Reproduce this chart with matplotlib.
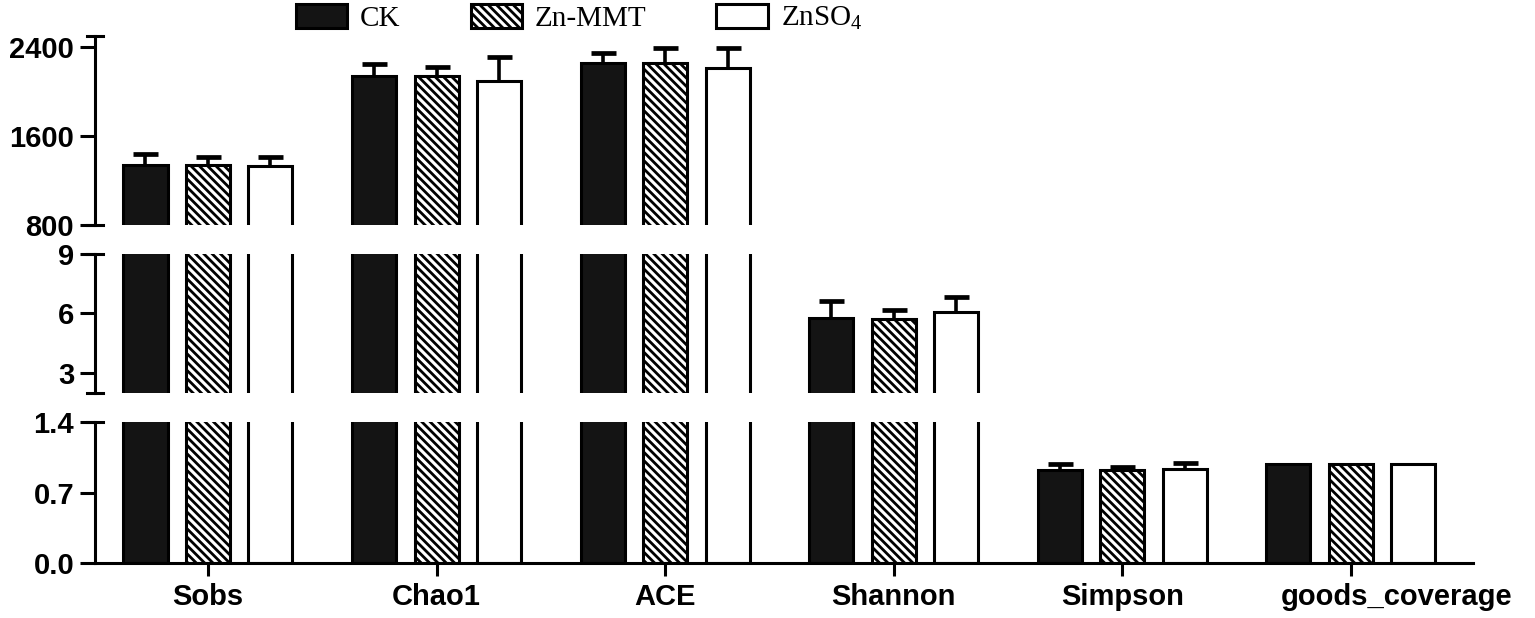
import numpy as np
import matplotlib
matplotlib.use("Agg")
import matplotlib.pyplot as plt
from matplotlib.patches import Patch
from matplotlib.lines import Line2D
from matplotlib.transforms import ScaledTranslation

plt.rcParams['hatch.linewidth'] = 2.0
plt.rcParams['mathtext.fontset'] = 'custom'
plt.rcParams['mathtext.rm'] = 'Liberation Serif'

# ---------------- data ----------------
categories = ['Sobs', 'Chao1', 'ACE', 'Shannon', 'Simpson', 'goods_coverage']
series_names = ['CK', 'Zn-MMT', r'$\mathregular{ZnSO_4}$']
ck = [1338, 2137, 2250, 5.78, 0.923, 0.982]
ck_err = [99, 104, 96, 0.84, 0.057, 0.0]
znmmt = [1338, 2137, 2256, 5.71, 0.923, 0.982]
znmmt_err = [69, 77, 130, 0.45, 0.032, 0.0]
znso4 = [1329, 2095, 2206, 6.08, 0.930, 0.982]
znso4_err = [84, 209, 180, 0.72, 0.060, 0.0]

top_ticks = [800, 1600, 2400]
mid_ticks = [3, 6, 9]
bot_ticks = [0.0, 0.7, 1.4]
top_lim = (800, 2500)
mid_lim = (2, 9)
bot_lim = (0, 1.4)

# ---------------- style ----------------
W, H = 1535, 618
fig = plt.figure(figsize=(W / 100, H / 100), dpi=100)
LW = 2.2
tick_font = dict(family='Liberation Sans', weight='bold', size=21)

left = 95 / W
width = (1473 - 95) / W
seg_px = [(35.5, 225.0), (253.7, 393.0), (421.7, 563.3)]
axes = []
for top_px, bot_px in seg_px:
    ax = fig.add_axes([left, 1 - bot_px / H, width, (bot_px - top_px) / H])
    axes.append(ax)
ax_top, ax_mid, ax_bot = axes

x = np.arange(len(categories))
bar_w = 0.1925
offs = [-0.2734, 0.0, 0.2734]
faces = ['#141414', 'white', 'white']
hatches = [None, '\\\\\\\\', None]
values = [ck, znmmt, znso4]
errors = [ck_err, znmmt_err, znso4_err]

for ax in axes:
    for vals, errs, off, fc, ht in zip(values, errors, offs, faces, hatches):
        ax.bar(x + off, vals, width=bar_w, color=fc, edgecolor='black',
               linewidth=LW, hatch=ht, zorder=2)
        v = np.asarray(vals, dtype=float)
        e = np.asarray(errs, dtype=float)
        m = e > 0
        res = ax.errorbar((x + off)[m], v[m], yerr=[np.zeros(m.sum()), e[m]],
                          fmt='none', ecolor='black', elinewidth=2.6,
                          capsize=9, capthick=3.4, zorder=3)
        caps = res[1]
        if len(caps) >= 2:
            caps[0].set_visible(False)
    ax.set_xlim(-0.4943, 5.5337)
    for s in ['top', 'right']:
        ax.spines[s].set_visible(False)
    ax.spines['left'].set_linewidth(LW)
    ax.spines['bottom'].set_linewidth(LW)
    ax.tick_params(axis='y', direction='out', length=11, width=LW, pad=4)
    ax.patch.set_alpha(0)

ax_top.set_ylim(*top_lim)
ax_top.set_yticks(top_ticks)
ax_top.set_yticklabels([str(t) for t in top_ticks], **tick_font)
ax_mid.set_ylim(*mid_lim)
ax_mid.set_yticks(mid_ticks)
ax_mid.set_yticklabels([str(t) for t in mid_ticks], **tick_font)
ax_bot.set_ylim(*bot_lim)
ax_bot.set_yticks(bot_ticks)
ax_bot.set_yticklabels([f"{t:.1f}" for t in bot_ticks], **tick_font)

for ax in (ax_top, ax_mid):
    ax.spines['bottom'].set_visible(False)
    ax.set_xticks([])

ax_bot.set_xticks(x)
ax_bot.set_xticklabels(categories, **tick_font)
ax_bot.tick_params(axis='x', direction='out', length=9, width=LW, pad=5)
lbls = ax_bot.get_xticklabels()
lbls[-1].set_transform(lbls[-1].get_transform() + ScaledTranslation(0.46, 0, fig.dpi_scale_trans))

# break marks at spine ends
d = 8 / (W * width)
for ax, ends in ((ax_top, [0, 1]), (ax_mid, [0, 1]), (ax_bot, [1])):
    for yy in ends:
        ax.add_line(Line2D([-d, d], [yy, yy], transform=ax.transAxes,
                           color='black', lw=LW, clip_on=False))

# legend
handles = [Patch(facecolor=fc, edgecolor='black', linewidth=LW, hatch=ht)
           for fc, ht in zip(faces, hatches)]
fig.legend(handles, series_names, loc='upper left',
           bbox_to_anchor=(296 / W, 1 - 4 / H), ncol=3, frameon=False,
           prop=dict(family='Liberation Serif', size=21),
           handlelength=1.75, handleheight=0.89, handletextpad=0.45,
           columnspacing=2.4, borderpad=0, borderaxespad=0)

fig.savefig('out.png', dpi=100)
